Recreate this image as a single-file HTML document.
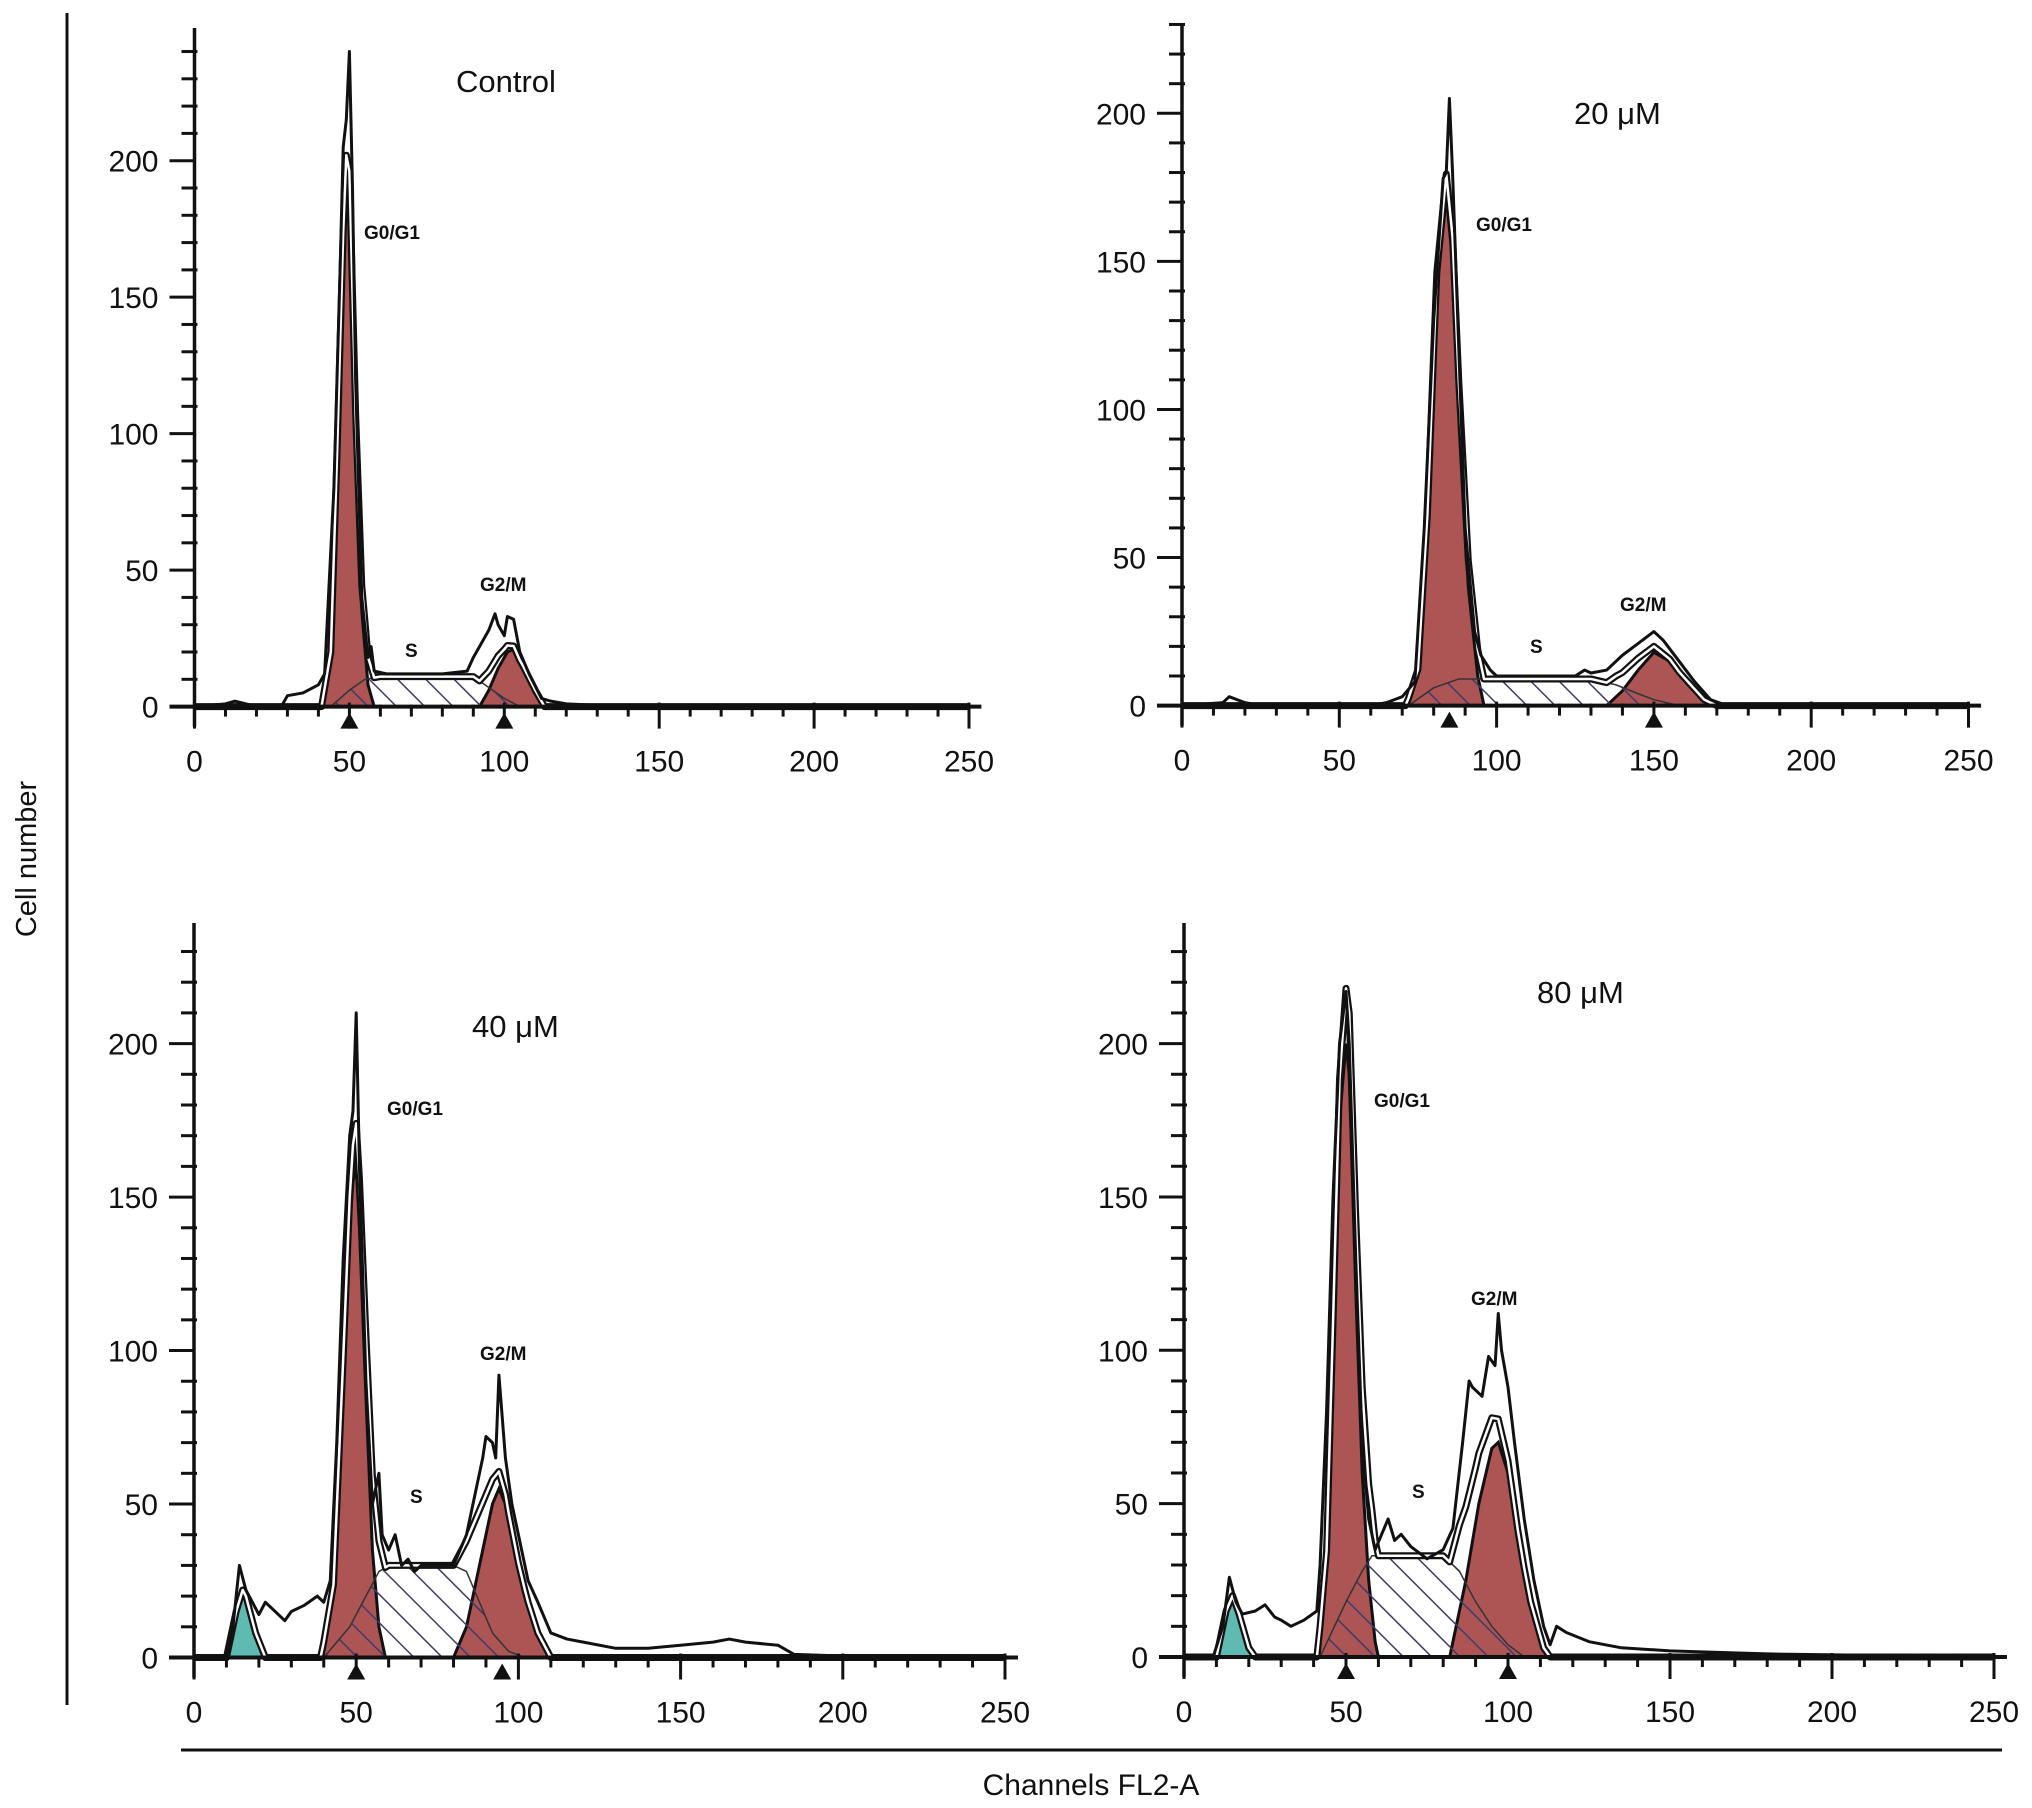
<!DOCTYPE html>
<html><head><meta charset="utf-8">
<style>
html,body{margin:0;padding:0;background:#fff;}
svg{display:block;}
text{font-family:"Liberation Sans",sans-serif;fill:#111;}
</style></head>
<body>
<svg id="fig" width="2032" height="1808" viewBox="0 0 2032 1808" xmlns="http://www.w3.org/2000/svg">
<defs>
<pattern id="hatch" patternUnits="userSpaceOnUse" width="20" height="20" patternTransform="rotate(-45)">
<line x1="0" y1="0" x2="0" y2="20" stroke="#3c3c6a" stroke-width="3"/>
</pattern>
</defs>
<line x1="67" y1="13" x2="67" y2="1705" stroke="#111" stroke-width="3"/>
<line x1="181" y1="1750" x2="2002" y2="1750" stroke="#111" stroke-width="3"/>
<text x="0" y="0" font-size="29" text-anchor="middle" transform="translate(36,859) rotate(-90)">Cell number</text>
<text x="1091" y="1795" font-size="30" text-anchor="middle">Channels FL2-A</text>
<g id="panels"></g>
</svg>
<script>
// ---- Control ----
const ctrlHist = [[0,0],[10,1],[13,2],[20,0],[28,0],[30,4],[35,5],[40,8],[42,12],[45,80],[47,160],[48,205],[49,215],[50,240],[51,190],[52,120],[54,40],[56,18],[57,22],[58,13],[62,12],[70,12],[80,12],[88,13],[90,18],[93,24],[95,28],[97,34],[98,30],[100,26],[101,33],[103,32],[105,20],[108,12],[112,3],[115,2],[120,1],[130,0.5],[150,0.5],[200,0.3],[250,0]];
const ctrlG1 = [[41,0],[44,20],[46,90],[48,170],[49,197],[50,190],[52,100],[54,35],[56,8],[58,0]];
const ctrlS = [[44,0],[50,6],[55,10],[60,11],[90,11],[95,7],[100,3],[105,0]];
const ctrlG2 = [[92,0],[95,6],[98,14],[101,20],[103,21],[106,15],[110,6],[113,0]];
const ctrlDebris = [];
const ctrlMarkers = [50,100];
// ---- 20 uM ----
const m20Hist = [[0,0],[13,1],[15,3],[20,1],[25,0],[60,0],[65,1],[70,3],[74,8],[77,60],[80,130],[83,178],[84,180],[85,205],[86,180],[88,120],[90,60],[93,25],[95,17],[98,12],[100,10],[110,10],[125,10],[128,12],[130,11],[135,12],[140,17],[145,21],[150,25],[153,22],[158,15],[163,8],[168,2],[172,0.5],[250,0]];
const m20G1 = [[71,0],[75,10],[78,60],[81,140],[84,172],[86,150],[88,100],[91,40],[94,10],[96,0]];
const m20S = [[72,0],[80,6],[88,9],[95,9],[130,9],[138,7],[145,4],[150,2],[158,0]];
const m20G2 = [[135,0],[140,5],[145,12],[150,18],[155,15],[160,9],[166,2],[170,0]];
const m20Debris = [];
const m20Markers = [85,150];
// ---- 40 uM ----
const m40Hist = [[0,0],[10,0],[12,10],[14,30],[16,22],[18,18],[20,14],[22,18],[25,15],[28,12],[30,15],[34,17],[38,20],[40,18],[42,25],[44,70],[46,130],[48,170],[49,178],[50,210],[51,160],[53,90],[55,50],[57,60],[58,40],[60,35],[62,40],[64,30],[66,32],[68,28],[70,30],[80,30],[84,40],[87,55],[89,65],[90,72],[92,70],[93,65],[94,92],[96,65],[98,50],[100,40],[103,25],[106,18],[110,8],[115,6],[120,5],[130,3],[140,3],[150,4],[160,5],[165,6],[170,5],[180,4],[185,1],[200,0.5],[250,0]];
const m40G1 = [[39,0],[43,20],[46,90],[48,140],[49,155],[50,160],[51,140],[53,85],[55,35],[57,10],[59,0]];
const m40S = [[40,0],[48,10],[53,20],[57,28],[60,30],[80,30],[84,28],[88,18],[92,8],[97,2],[102,0]];
const m40G2 = [[80,0],[84,10],[88,30],[92,50],[94,55],[96,50],[100,30],[103,18],[106,8],[110,0]];
const m40Debris = [[10,0],[13,15],[15,22],[16,20],[19,8],[22,0]];
const m40Markers = [50,95];
// ---- 80 uM ----
const m80Hist = [[0,0],[9,0],[12,10],[14,26],[16,18],[18,14],[22,15],[25,17],[28,13],[30,12],[33,10],[37,12],[41,15],[42,30],[44,80],[46,150],[48,200],[50,217],[51,200],[53,130],[55,70],[57,45],[59,35],[61,40],[63,45],[65,38],[67,40],[70,36],[75,32],[80,35],[83,42],[86,70],[88,90],[89,88],[92,85],[94,98],[96,95],[97,112],[98,100],[100,88],[102,70],[105,45],[108,25],[111,10],[113,4],[115,10],[118,8],[125,5],[135,3],[150,2],[180,1],[250,0]];
const m80G1 = [[41,0],[44,30],[46,100],[48,175],[50,200],[51,190],[53,120],[55,60],[57,25],[59,5],[60,0]];
const m80S = [[42,0],[50,18],[55,28],[58,33],[80,33],[85,28],[90,18],[95,10],[100,4],[105,0]];
const m80G2 = [[82,0],[87,25],[91,50],[95,68],[97,70],[100,60],[103,40],[107,18],[111,3],[113,0]];
const m80Debris = [[10,0],[13,15],[15,20],[17,14],[20,3],[22,0]];
const m80Markers = [50,100];

const xTickLabels = ["0","50","100","150","200","250"];
const yTickLabels = ["0","50","100","150","200"];

const NS = "http://www.w3.org/2000/svg";
const root = document.getElementById('panels');
function mk(tag, attrs, parent){
  const e = document.createElementNS(NS, tag);
  for (const k in attrs) e.setAttribute(k, attrs[k]);
  parent.appendChild(e);
  return e;
}
function interp(arr, x){
  if (!arr.length) return 0;
  if (x <= arr[0][0] || x >= arr[arr.length-1][0]) return 0;
  for (let i=1;i<arr.length;i++){
    if (x <= arr[i][0]){
      const a=arr[i-1], b=arr[i];
      return a[1] + (b[1]-a[1])*(x-a[0])/(b[0]-a[0]);
    }
  }
  return 0;
}
const panels = [
  {key:'control', title:'Control', hist:ctrlHist, g1:ctrlG1, s:ctrlS, g2:ctrlG2, deb:ctrlDebris, mk:ctrlMarkers,
   x0:194.5, x250:969, y0:706.6, y200:160.7, yMax:240, top:28,
   tl:[456,92,'start'], g1l:[364,239], g2l:[480,591], sl:[405,657]},
  {key:'20um', title:'20 \u03bcM', hist:m20Hist, g1:m20G1, s:m20S, g2:m20G2, deb:m20Debris, mk:m20Markers,
   x0:1182, x250:1968.5, y0:705.6, y200:113.3, yMax:230, top:25,
   tl:[1574,124,'start'], g1l:[1476,231], g2l:[1620,611], sl:[1530,653]},
  {key:'40um', title:'40 \u03bcM', hist:m40Hist, g1:m40G1, s:m40S, g2:m40G2, deb:m40Debris, mk:m40Markers,
   x0:194, x250:1005, y0:1657.5, y200:1043.6, yMax:230, top:923,
   tl:[472,1037,'start'], g1l:[387,1115], g2l:[480,1360], sl:[410,1503]},
  {key:'80um', title:'80 \u03bcM', hist:m80Hist, g1:m80G1, s:m80S, g2:m80G2, deb:m80Debris, mk:m80Markers,
   x0:1184, x250:1994, y0:1657, y200:1043.6, yMax:230, top:923,
   tl:[1537,1003,'start'], g1l:[1374,1107], g2l:[1471,1305], sl:[1412,1498]}
];

panels.forEach(p => {
  const X = c => p.x0 + (p.x250-p.x0)*c/250;
  const Y = v => p.y0 - (p.y0-p.y200)*v/200;
  const g = mk('g', {}, root);
  
  
  const area = (arr) => {
    let d = 'M' + X(arr[0][0]) + ',' + Y(0);
    arr.forEach(pt => { d += ' L' + X(pt[0]) + ',' + Y(pt[1]); });
    d += ' L' + X(arr[arr.length-1][0]) + ',' + Y(0) + ' Z';
    return d;
  };
  const line = (arr) => arr.map((pt,i)=>(i?'L':'M')+X(pt[0])+','+Y(pt[1])).join(' ');
  if (p.deb.length){
    const e = mk('path', {d:area(p.deb), fill:'#5fbab2', stroke:'#111', 'stroke-width':2.5}, g);
    
    
  }
  const sBase = mk('path', {d:area(p.s), fill:'#fff', stroke:'none'}, g);
  
  
  const g1 = mk('path', {d:area(p.g1), fill:'#ad5455', stroke:'#111', 'stroke-width':3}, g);
  
  
  const g2 = mk('path', {d:area(p.g2), fill:'#ad5455', stroke:'#111', 'stroke-width':3}, g);
  
  
  const sH = mk('path', {d:area(p.s), fill:'url(#hatch)', stroke:'#333', 'stroke-width':1.5}, g);
  
  
  const fit = [];
  for (let c=0;c<=250;c+=1){
    fit.push([c, interp(p.g1,c)+interp(p.s,c)+interp(p.g2,c)+interp(p.deb,c)]);
  }
  const f1 = mk('path', {d:line(fit), fill:'none', stroke:'#111', 'stroke-width':7, 'stroke-linejoin':'round'}, g);
  
  
  const f2 = mk('path', {d:line(fit), fill:'none', stroke:'#fff', 'stroke-width':2.5, 'stroke-linejoin':'round'}, g);
  
  
  const h = mk('path', {d:line(p.hist), fill:'none', stroke:'#111', 'stroke-width':3, 'stroke-linejoin':'round'}, g);
  
  
  const ax = mk('g', {}, g);
  
  
  mk('line', {x1:p.x0, y1:p.top, x2:p.x0, y2:p.y0+20, stroke:'#111','stroke-width':3.5}, ax);
  mk('line', {x1:p.x0-25, y1:p.y0, x2:X(254), y2:p.y0, stroke:'#111','stroke-width':4}, ax);
  for (let v=0; v<=p.yMax; v+=10){
    const major = v%50===0;
    mk('line', {x1:p.x0-(major?25:13), y1:Y(v), x2:p.x0+(major?0:3), y2:Y(v), stroke:'#111','stroke-width':3}, ax);
  }
  yTickLabels.forEach((t,i)=>{
    const e = mk('text', {x:p.x0-36, y:Y(Number(t))+11, 'font-size':30, 'text-anchor':'end'}, ax);
    e.textContent = t;
    
    
  });
  for (let c=0; c<=250; c+=10){
    const major = c%50===0;
    mk('line', {x1:X(c), y1:p.y0-(major?4:2), x2:X(c), y2:p.y0+(major?22:10), stroke:'#111','stroke-width':3}, ax);
  }
  xTickLabels.forEach(t=>{
    const e = mk('text', {x:X(Number(t)), y:p.y0+65, 'font-size':30, 'text-anchor':'middle'}, ax);
    e.textContent = t;
    
    
  });
  p.mk.forEach(c=>{
    const e = mk('path', {d:'M'+(X(c)-9)+','+(p.y0+22)+' L'+(X(c)+9)+','+(p.y0+22)+' L'+X(c)+','+(p.y0+6)+' Z', fill:'#111'}, g);
    
    
  });
  const tt = mk('text', {x:p.tl[0], y:p.tl[1], 'font-size':31, 'text-anchor':p.tl[2]}, g);
  tt.textContent = p.title;
  
  
  const l1 = mk('text', {x:p.g1l[0], y:p.g1l[1], 'font-size':19, 'font-weight':'bold'}, g);
  l1.textContent = 'G0/G1';
  
  
  const l2 = mk('text', {x:p.g2l[0], y:p.g2l[1], 'font-size':19, 'font-weight':'bold'}, g);
  l2.textContent = 'G2/M';
  
  
  const l3 = mk('text', {x:p.sl[0], y:p.sl[1], 'font-size':19, 'font-weight':'bold'}, g);
  l3.textContent = 'S';
  
  
});
</script>
</body></html>
